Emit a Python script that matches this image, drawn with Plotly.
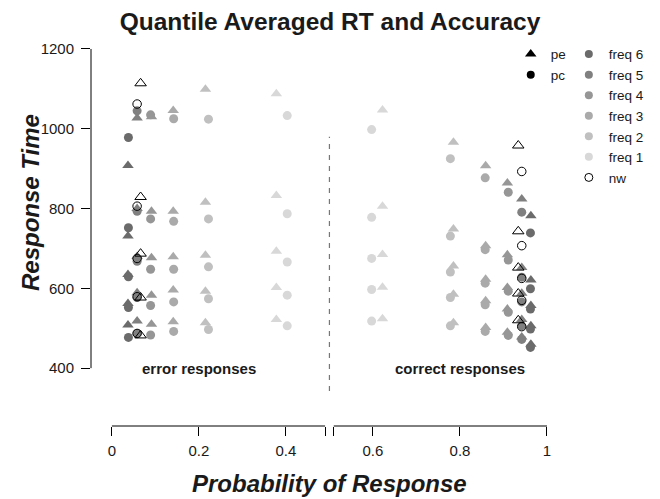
import plotly.graph_objects as go

# ---------------- data ----------------
conditions = ["freq 6", "freq 5", "freq 4", "freq 3", "freq 2", "freq 1", "nw"]
colors = ["#6b6b6b", "#808080", "#969696", "#aaaaaa", "#c0c0c0", "#d8d8d8", "black"]

# probability of an error response (pe = triangles, pc = circles)
p_error_pe = [0.037, 0.058, 0.091, 0.141, 0.215, 0.378, 0.066]
p_error_pc = [0.038, 0.058, 0.089, 0.142, 0.222, 0.403, 0.058]

# RT quantiles (.1 .3 .5 .7 .9) for error responses
error_rt_pe = [
    [508, 562, 635, 731, 908],
    [518, 589, 680, 800, 1027],
    [510, 583, 677, 793, 1030],
    [516, 596, 679, 793, 1046],
    [514, 593, 683, 816, 1099],
    [522, 602, 693, 833, 1088],
    [482, 577, 687, 829, 1114],
]
error_rt_pc = [
    [477, 552, 629, 752, 978],
    [487, 577, 668, 793, 1045],
    [483, 557, 648, 774, 1035],
    [492, 566, 648, 768, 1025],
    [497, 574, 654, 774, 1024],
    [506, 583, 666, 787, 1033],
    [487, 579, 675, 806, 1062],
]
# RT quantiles for correct responses
correct_rt_pe = [
    [460, 506, 557, 621, 782],
    [478, 522, 588, 652, 824],
    [490, 548, 602, 684, 864],
    [502, 569, 623, 707, 907],
    [514, 585, 656, 749, 966],
    [524, 603, 685, 806, 1047],
    [520, 587, 652, 743, 958],
]
correct_rt_pc = [
    [452, 498, 548, 599, 739],
    [472, 506, 566, 628, 791],
    [482, 540, 593, 671, 841],
    [492, 559, 613, 697, 877],
    [506, 577, 641, 731, 925],
    [518, 597, 675, 778, 998],
    [504, 570, 625, 707, 893],
]

x_tick_vals = [0, 0.2, 0.4, 0.49, 0.51, 0.6, 0.8, 1]
x_tick_text = ["0", "0.2", "0.4", "", "", "0.6", "0.8", "1"]
y_tick_vals = [400, 600, 800, 1000, 1200]

FONT = "Liberation Sans, Arial, Helvetica, sans-serif"

fig = go.Figure()

for i, cond in enumerate(conditions):
    is_nw = cond == "nw"
    for kind, probs, err_rt, cor_rt in (
        ("pe", p_error_pe, error_rt_pe, correct_rt_pe),
        ("pc", p_error_pc, error_rt_pc, correct_rt_pc),
    ):
        p = probs[i]
        xs = [p] * len(err_rt[i]) + [1 - p] * len(cor_rt[i])
        ys = err_rt[i] + cor_rt[i]
        if kind == "pe":
            sym = "triangle-up-open" if is_nw else "triangle-up"
            size = 10
        else:
            sym = "circle-open" if is_nw else "circle"
            size = 8.5 if is_nw else 9
        fig.add_trace(go.Scatter(
            x=xs, y=ys, mode="markers", showlegend=False,
            marker=dict(symbol=sym, size=size, color=colors[i],
                        line=dict(width=1 if is_nw else 0, color=colors[i])),
            hoverinfo="x+y",
        ))

# legend 1: pe / pc
fig.add_trace(go.Scatter(x=[None], y=[None], mode="markers", name="pe",
                         marker=dict(symbol="triangle-up", size=10, color="black"),
                         legend="legend"))
fig.add_trace(go.Scatter(x=[None], y=[None], mode="markers", name="pc",
                         marker=dict(symbol="circle", size=8, color="black"),
                         legend="legend"))
# legend 2: conditions
for i, cond in enumerate(conditions):
    is_nw = cond == "nw"
    fig.add_trace(go.Scatter(
        x=[None], y=[None], mode="markers", name=cond, legend="legend2",
        marker=dict(symbol="circle-open" if is_nw else "circle", size=8,
                    color=colors[i], line=dict(width=1 if is_nw else 0, color=colors[i]))))

shapes = [
    # broken x axis line
    dict(type="line", xref="x", yref="paper", x0=0, x1=0.49, y0=0, y1=0,
         line=dict(color="black", width=1)),
    dict(type="line", xref="x", yref="paper", x0=0.51, x1=1, y0=0, y1=0,
         line=dict(color="black", width=1)),
    # y axis line
    dict(type="line", xref="paper", yref="y", x0=0, x1=0, y0=400, y1=1200,
         line=dict(color="black", width=1)),
    # dashed separator
    dict(type="line", xref="x", yref="y", x0=0.5, x1=0.5, y0=343, y1=980,
         line=dict(color="#777777", width=1.2, dash="5px,6px")),
]

annotations = [
    dict(x=0.2, y=400, xref="x", yref="y", text="<b>error responses</b>",
         showarrow=False, font=dict(size=15, color="#1a1a1a", family=FONT)),
    dict(x=0.8, y=400, xref="x", yref="y", text="<b>correct responses</b>",
         showarrow=False, font=dict(size=15, color="#1a1a1a", family=FONT)),
    dict(x=-0.1123, y=0.5777, xref="paper", yref="paper",
         text="<b><i>Response Time</i></b>", textangle=-90, showarrow=False,
         xanchor="center", yanchor="middle",
         font=dict(size=24, color="#1a1a1a", family=FONT)),
    dict(x=0.44, y=-0.1477, xref="paper", yref="paper",
         text="<b><i>Probability of Response</i></b>", showarrow=False,
         xanchor="center", yanchor="middle",
         font=dict(size=24, color="#1a1a1a", family=FONT)),
]

fig.update_layout(
    width=660, height=499,
    margin=dict(l=83, r=34, t=32, b=81),
    paper_bgcolor="white", plot_bgcolor="white",
    font=dict(family=FONT, size=15, color="#1a1a1a"),
    title=dict(text="<b>Quantile Averaged RT and Accuracy</b>", x=0.5 - 8 / 660,
               xanchor="center", y=1 - 13 / 499, yanchor="middle",
               font=dict(size=24.5, color="#1a1a1a", family=FONT)),
    xaxis=dict(range=[-0.048, 1.2], showgrid=False, zeroline=False, showline=False,
               ticks="outside", ticklen=9, tickwidth=1, tickcolor="black",
               tickvals=x_tick_vals, ticktext=x_tick_text, ticklabelstandoff=2,
               tickfont=dict(size=15, family=FONT, color="#1a1a1a")),
    yaxis=dict(range=[255, 1222.5], showgrid=False, zeroline=False, showline=False,
               ticks="outside", ticklen=9, tickwidth=1, tickcolor="black",
               tickvals=y_tick_vals, ticklabelstandoff=4,
               tickfont=dict(size=15, family=FONT, color="#1a1a1a")),
    shapes=shapes,
    annotations=annotations,
    legend=dict(x=0.773, y=1.003, xanchor="left", yanchor="top",
                bgcolor="rgba(0,0,0,0)", font=dict(size=13.5, family=FONT),
                itemsizing="trace", tracegroupgap=0),
    legend2=dict(x=0.880, y=1.003, xanchor="left", yanchor="top",
                 bgcolor="rgba(0,0,0,0)", font=dict(size=13.5, family=FONT),
                 itemsizing="trace", tracegroupgap=0),
    showlegend=True,
)

fig.write_html("out.html")
